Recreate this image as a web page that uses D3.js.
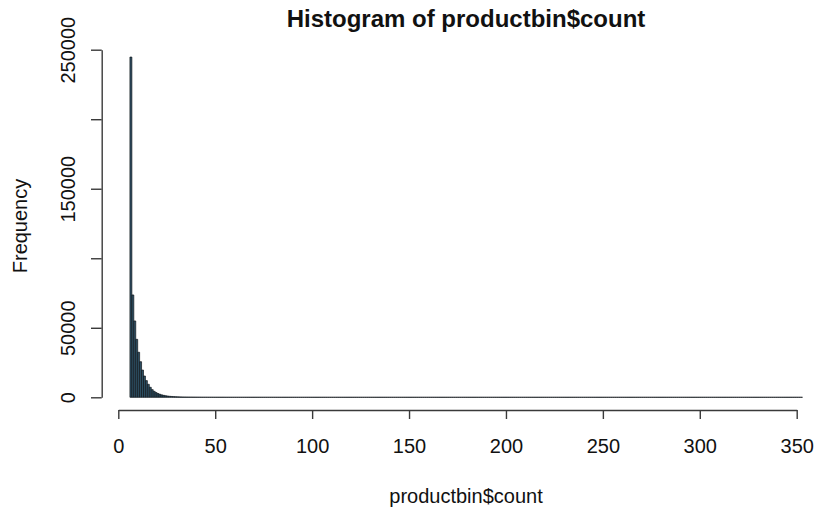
<!DOCTYPE html>
<html>
<head>
<meta charset="utf-8">
<script src="https://cdn.jsdelivr.net/npm/d3@7"></script>
<style>
  html, body { margin: 0; padding: 0; background: #fff; }
  svg { display: block; font-family: "Liberation Sans", Arial, Helvetica, sans-serif; }
</style>
</head>
<body>
<svg id="chart" width="816" height="511"></svg>
<script>
// Histogram of productbin$count: unit-width bins starting at 6
const binStart = 6;
const binWidth = 1;

// Frequencies of the first 40 bins (6..45)
const headCounts = [
  244700, 73600, 54900, 41700, 32400, 25600, 19600, 15300, 12000, 9350,
  7200, 5500, 4300, 3400, 2700, 2150, 1720, 1380, 1110, 900,
  730, 600, 495, 410, 340, 285, 240, 203, 172, 147,
  126, 108, 93, 81, 70, 61, 53, 47, 41, 36
];

// Frequencies of the long right tail (bins 46..352)
const tailCounts = [
  32,29,26,23,21,19,17,16,14,13,
  12,11,10,10,9,8,8,7,7,6,
  6,6,5,5,5,4,4,4,4,3,
  3,3,3,3,3,2,2,2,2,2,
  2,2,2,2,1,2,1,1,2,1,
  1,1,1,1,0,1,1,1,0,1,
  1,0,1,1,0,1,0,1,1,0,
  1,0,1,0,1,0,0,1,1,0,
  0,1,0,1,0,1,0,0,1,0,
  1,0,0,1,0,0,1,0,1,0,
  0,1,0,0,1,0,0,0,1,0,
  0,1,0,0,0,1,0,0,1,0,
  0,0,1,0,0,0,1,0,0,0,
  1,0,0,0,1,0,0,0,0,1,
  0,0,0,1,0,0,0,0,1,0,
  0,0,1,0,0,0,0,0,1,0,
  0,0,0,0,1,0,0,0,0,0,
  1,0,0,0,0,0,1,0,0,0,
  0,0,0,1,0,0,0,0,0,0,
  0,1,0,0,0,0,0,0,1,0,
  0,0,0,0,0,1,0,0,0,0,
  0,0,0,0,0,0,0,1,0,0,
  0,0,1,0,0,0,0,0,0,0,
  0,0,0,0,0,0,1,0,0,0,
  0,0,0,0,0,0,0,0,0,1,
  0,0,0,0,0,0,0,0,0,0,
  0,0,0,1,0,0,0,0,0,0,
  0,0,0,0,0,0,0,0,0,0,
  0,0,0,0,0,0,0,1,0,0,
  0,0,0,0,0,0,0,0,0,0,
  0,0,0,0,0,0,1
];

const xTicks = [0, 50, 100, 150, 200, 250, 300, 350];
const yTicks = [0, 50000, 100000, 150000, 200000, 250000];
const yLabelled = [0, 50000, 150000, 250000];

const titleText = "Histogram of productbin$count";
const xTitle = "productbin$count";
const yTitle = "Frequency";

const counts = headCounts.concat(tailCounts);
const bins = counts.map((c, i) => ({
  x0: binStart + i * binWidth,
  x1: binStart + (i + 1) * binWidth,
  count: c
}));

const svg = d3.select("#chart");

const x = d3.scaleLinear().domain([0, 350]).range([118.3, 796.7]);
const y = d3.scaleLinear().domain([0, 250000]).range([397.3, 49.7]);

// Bars drawn as closed paths so empty bins still show their outline on the baseline
svg.append("g")
  .selectAll("path")
  .data(bins)
  .join("path")
  .attr("d", d => {
    const xa = x(d.x0), xb = x(d.x1), y0 = y(0), y1 = y(d.count);
    return `M${xa},${y0}V${y1}H${xb}V${y0}Z`;
  })
  .attr("fill", "#2f5368")
  .attr("stroke", "#0e1418")
  .attr("stroke-width", 0.7);

// X axis
const xAxis = svg.append("g")
  .attr("transform", "translate(0,410)")
  .call(d3.axisBottom(x).tickValues(xTicks).tickSize(9).tickSizeOuter(0).tickPadding(25).tickFormat(d3.format("d")));
xAxis.select(".domain").attr("stroke", "#3a3a3a").attr("stroke-width", 1.4);
xAxis.selectAll(".tick line").attr("stroke", "#3a3a3a").attr("stroke-width", 1.4);
xAxis.selectAll(".tick text")
  .attr("font-size", 20).attr("fill", "#111").attr("dy", 0).attr("y", 43);

// Y axis with rotated labels
const yAxis = svg.append("g")
  .attr("transform", "translate(101.7,0)")
  .call(d3.axisLeft(y).tickValues(yTicks).tickSize(10.7).tickSizeOuter(0)
    .tickFormat(d => yLabelled.includes(d) ? d3.format("d")(d) : ""));
yAxis.select(".domain").attr("stroke", "#3a3a3a").attr("stroke-width", 1.4);
yAxis.selectAll(".tick line").attr("stroke", "#3a3a3a").attr("stroke-width", 1.4);
yAxis.selectAll(".tick text")
  .attr("font-size", 20).attr("fill", "#111")
  .attr("text-anchor", "middle")
  .attr("transform", "rotate(-90)")
  .attr("x", 0).attr("y", -26.7).attr("dy", 0);

// Titles
svg.append("text")
  .attr("x", 466).attr("y", 27)
  .attr("text-anchor", "middle")
  .attr("font-size", 24).attr("font-weight", "bold").attr("fill", "#111")
  .text(titleText);

svg.append("text")
  .attr("x", 466).attr("y", 503)
  .attr("text-anchor", "middle")
  .attr("font-size", 20).attr("fill", "#111")
  .text(xTitle);

svg.append("text")
  .attr("transform", "translate(26.5,226) rotate(-90)")
  .attr("text-anchor", "middle")
  .attr("font-size", 20).attr("fill", "#111")
  .text(yTitle);
</script>
</body>
</html>
